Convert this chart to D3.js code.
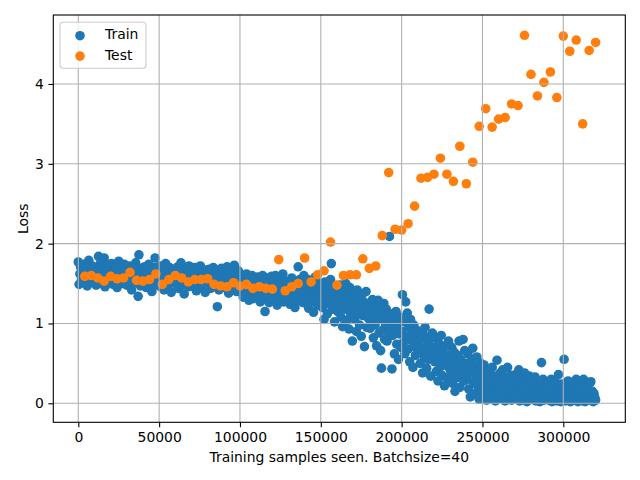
<!DOCTYPE html>
<html>
<head>
<meta charset="utf-8">
<script src="https://cdn.jsdelivr.net/npm/d3@7"></script>
<style>
  html, body { margin: 0; padding: 0; background: #fff; }
  text { font-family: "DejaVu Sans", sans-serif; }
</style>
</head>
<body>
<svg id="chart" width="640" height="480"></svg>
<script>
// ---- Data ----
const trainStep = 500;           // samples between training-loss records
const trainLoss = [
  1.77,1.49,1.62,1.70,1.55,1.66,1.58,1.74,1.51,1.63,1.68,1.47,1.60,1.79,1.56,1.65,1.53,1.72,1.59,1.64,
  1.57,1.70,1.48,1.66,1.61,1.84,1.54,1.75,1.63,1.50,1.69,1.58,1.82,1.46,1.65,1.60,1.73,1.55,1.67,1.52,
  1.62,1.75,1.58,1.49,1.68,1.55,1.71,1.64,1.45,1.60,1.78,1.53,1.66,1.57,1.69,1.50,1.63,1.74,1.56,1.61,
  1.48,1.67,1.59,1.72,1.54,1.63,1.42,1.70,1.58,1.65,1.51,1.76,1.60,1.55,1.34,1.86,1.62,1.47,1.69,1.57,
  1.64,1.52,1.71,1.58,1.45,1.66,1.61,1.74,1.50,1.57,1.68,1.40,1.63,1.55,1.70,1.82,1.48,1.60,1.67,1.53,
  1.59,1.72,1.46,1.64,1.56,1.69,1.42,1.61,1.75,1.52,1.66,1.58,1.49,1.70,1.63,1.39,1.57,1.68,1.54,1.62,
  1.50,1.65,1.59,1.71,1.44,1.62,1.55,1.76,1.48,1.67,1.58,1.37,1.64,1.53,1.69,1.60,1.46,1.72,1.56,1.63,
  1.58,1.47,1.66,1.54,1.70,1.61,1.41,1.68,1.57,1.50,1.64,1.72,1.45,1.59,1.66,1.52,1.62,1.39,1.67,1.55,
  1.63,1.51,1.68,1.57,1.44,1.65,1.59,1.70,1.48,1.61,1.54,1.67,1.21,1.58,1.42,1.64,1.52,1.69,1.56,1.47,
  1.60,1.45,1.66,1.53,1.71,1.58,1.38,1.63,1.49,1.68,1.56,1.42,1.61,1.73,1.51,1.64,1.40,1.57,1.66,1.48,
  1.55,1.40,1.60,1.47,1.33,1.58,1.51,1.44,1.62,1.36,1.53,1.29,1.49,1.57,1.42,1.60,1.31,1.54,1.46,1.38,
  1.52,1.43,1.58,1.34,1.49,1.27,1.55,1.40,1.60,1.46,1.31,1.15,1.52,1.38,1.57,1.44,1.26,1.50,1.35,1.59,
  1.41,1.54,1.30,1.47,1.60,1.36,1.23,1.51,1.43,1.57,1.33,1.48,1.39,1.62,1.27,1.45,1.53,1.35,1.49,1.42,
  1.36,1.50,1.24,1.44,1.57,1.31,1.47,1.40,1.20,1.53,1.38,1.45,1.71,1.29,1.55,1.42,1.34,1.49,1.26,1.60,
  1.38,1.26,1.48,1.33,1.55,1.19,1.42,1.36,1.52,1.28,1.45,1.14,1.40,1.58,1.31,1.47,1.23,1.37,1.50,1.29,
  1.34,1.46,1.20,1.39,1.05,1.52,1.28,1.43,1.12,1.36,1.49,1.24,1.55,1.75,1.31,1.18,1.44,1.02,1.38,1.26,
  1.30,1.15,1.42,1.22,1.48,1.08,1.35,0.96,1.27,1.40,1.18,1.50,1.04,1.32,1.24,0.93,1.45,1.12,1.37,0.78,
  1.20,1.38,1.05,1.28,0.90,1.42,1.14,1.31,0.98,1.23,0.84,1.36,1.10,1.27,0.71,1.18,1.40,0.95,1.25,1.06,
  1.12,0.94,1.24,1.02,1.30,0.82,1.16,0.98,1.08,0.72,1.20,1.29,0.88,1.05,0.66,0.44,1.14,0.92,1.25,0.80,
  1.00,1.18,0.78,1.08,0.88,2.09,0.96,1.12,0.43,0.85,1.04,0.62,0.92,1.15,0.74,0.99,0.55,0.87,1.08,0.70,
  0.90,1.36,0.76,1.02,0.62,1.27,0.84,1.13,0.68,0.95,0.52,1.05,0.79,0.88,0.45,0.98,0.71,0.60,0.92,0.82,
  0.78,0.64,0.90,0.50,0.82,0.70,0.38,0.86,0.58,0.95,0.66,0.44,0.75,0.55,1.18,0.80,0.34,0.68,0.88,0.60,
  0.70,0.52,0.82,0.40,0.64,0.28,0.75,0.58,0.46,0.85,0.35,0.66,0.54,0.22,0.72,0.48,0.60,0.30,0.78,0.44,
  0.58,0.38,0.70,0.25,0.52,0.64,0.15,0.45,0.32,0.60,0.42,0.78,0.20,0.55,0.36,0.48,0.80,0.28,0.66,0.40,
  0.50,0.30,0.62,0.18,0.44,0.08,0.38,0.55,0.69,0.26,0.46,0.12,0.35,0.58,0.22,0.42,0.05,0.32,0.50,0.16,
  0.40,0.22,0.48,0.10,0.32,0.04,0.26,0.42,0.15,0.36,0.06,0.28,0.45,0.12,0.20,0.34,0.03,0.24,0.54,0.18,
  0.30,0.14,0.38,0.06,0.24,0.42,0.10,0.20,0.03,0.33,0.16,0.45,0.08,0.27,0.12,0.35,0.04,0.22,0.30,0.09,
  0.20,0.36,0.07,0.26,0.14,0.42,0.03,0.18,0.32,0.10,0.24,0.05,0.38,0.15,0.28,0.02,0.21,0.12,0.34,0.06,
  0.16,0.28,0.05,0.22,0.11,0.33,0.03,0.19,0.08,0.26,0.13,0.02,0.24,0.51,0.09,0.30,0.04,0.17,0.07,0.21,
  0.12,0.25,0.04,0.18,0.08,0.30,0.02,0.14,0.22,0.06,0.27,0.10,0.03,0.19,0.36,0.07,0.16,0.02,0.24,0.11,
  0.08,0.55,0.15,0.03,0.22,0.10,0.28,0.05,0.18,0.02,0.13,0.25,0.06,0.20,0.04,0.16,0.30,0.09,0.02,0.14,
  0.19,0.06,0.24,0.11,0.03,0.30,0.14,0.02,0.21,0.08,0.17,0.04,0.25,0.10,0.27,0.05,0.15,0.02,0.12,0.07,
  0.04
];
const testStep = 4000;           // samples between test-loss records (first at 4000)
const testLoss = [
  1.59,1.60,1.57,1.53,1.59,1.56,1.57,1.64,1.54,1.53,1.55,1.62,1.49,1.55,1.60,1.57,1.52,1.55,1.55,1.56,
  1.49,1.47,1.46,1.51,1.47,1.49,1.44,1.46,1.44,1.43,1.80,1.41,1.46,1.50,1.82,1.52,1.61,1.66,2.02,1.48,
  1.60,1.61,1.61,1.81,1.69,1.72,2.10,2.89,2.18,2.17,2.25,2.47,2.82,2.83,2.87,3.07,2.87,2.78,3.22,2.75,
  3.02,3.47,3.69,3.46,3.56,3.58,3.75,3.73,4.61,4.12,3.85,4.02,4.15,3.83,4.60,4.41,4.55,3.50,4.42,4.52
];
const xTicks = [0, 50000, 100000, 150000, 200000, 250000, 300000];
const yTicks = [0, 1, 2, 3, 4];
const seriesNames = ["Train", "Test"];
const seriesColors = ["#1f77b4", "#ff7f0e"];

// ---- Layout ----
const L = 53.3, R = 625.3, T = 15, B = 422.3;
const svg = d3.select("#chart");
svg.append("rect").attr("width", 640).attr("height", 480).attr("fill", "#fff");

const x = d3.scaleLinear().domain([-15464, 338350]).range([L, R]);
const y = d3.scaleLinear().domain([-0.238, 4.864]).range([B, T]);

const trainData = trainLoss.map((v, i) => ({x: i * trainStep, y: v}));
const testData = testLoss.map((v, i) => ({x: (i + 1) * testStep, y: v}));

const r = 4.8;
const plot = svg.append("g");
plot.append("g").selectAll("circle").data(trainData).join("circle")
  .attr("cx", d => x(d.x)).attr("cy", d => y(d.y)).attr("r", r)
  .attr("fill", seriesColors[0]);
plot.append("g").selectAll("circle").data(testData).join("circle")
  .attr("cx", d => x(d.x)).attr("cy", d => y(d.y)).attr("r", r)
  .attr("fill", seriesColors[1]);

// Grid (drawn above scatter, as in matplotlib default)
const grid = svg.append("g").attr("stroke", "#b0b0b0").attr("stroke-width", 1.1);
xTicks.forEach(t => grid.append("line")
  .attr("x1", x(t)).attr("x2", x(t)).attr("y1", T).attr("y2", B));
yTicks.forEach(t => grid.append("line")
  .attr("x1", L).attr("x2", R).attr("y1", y(t)).attr("y2", y(t)));

// Axes
const xAxis = d3.axisBottom(x).tickValues(xTicks).tickFormat(d3.format("d"))
  .tickSizeInner(4.9).tickSizeOuter(0).tickPadding(4.5);
const yAxis = d3.axisLeft(y).tickValues(yTicks).tickFormat(d3.format("d"))
  .tickSizeInner(4.9).tickSizeOuter(0).tickPadding(4.5);
const gx = svg.append("g").attr("transform", `translate(0,${B})`).call(xAxis);
const gy = svg.append("g").attr("transform", `translate(${L},0)`).call(yAxis);
[gx, gy].forEach(g => {
  g.select(".domain").remove();
  g.selectAll("line").attr("stroke", "#000").attr("stroke-width", 1.1);
  g.selectAll("text").attr("font-family", "DejaVu Sans").attr("font-size", 13.9).attr("fill", "#000");
});

// Spines
svg.append("rect").attr("x", L).attr("y", T).attr("width", R - L).attr("height", B - T)
  .attr("fill", "none").attr("stroke", "#000").attr("stroke-width", 1.1);

// Axis labels
svg.append("text").attr("x", (L + R) / 2).attr("y", 461.7).attr("text-anchor", "middle")
  .attr("font-size", 13.9).attr("fill", "#000").text("Training samples seen. Batchsize=40");
svg.append("text").attr("transform", `translate(27.5,${(T + B) / 2}) rotate(-90)`)
  .attr("text-anchor", "middle").attr("font-size", 13.9).attr("fill", "#000").text("Loss");

// Legend
const lg = svg.append("g");
lg.append("rect").attr("x", 60).attr("y", 22.3).attr("width", 86).attr("height", 46)
  .attr("rx", 3).attr("fill", "#fff").attr("fill-opacity", 0.8)
  .attr("stroke", "#cccccc").attr("stroke-width", 1.1);
seriesNames.forEach((name, i) => {
  const cy = 35.7 + i * 20.4;
  lg.append("circle").attr("cx", 80).attr("cy", cy).attr("r", r).attr("fill", seriesColors[i]);
  lg.append("text").attr("x", 105).attr("y", cy + 3.6).attr("font-size", 13.9)
    .attr("fill", "#000").text(name);
});
</script>
</body>
</html>
